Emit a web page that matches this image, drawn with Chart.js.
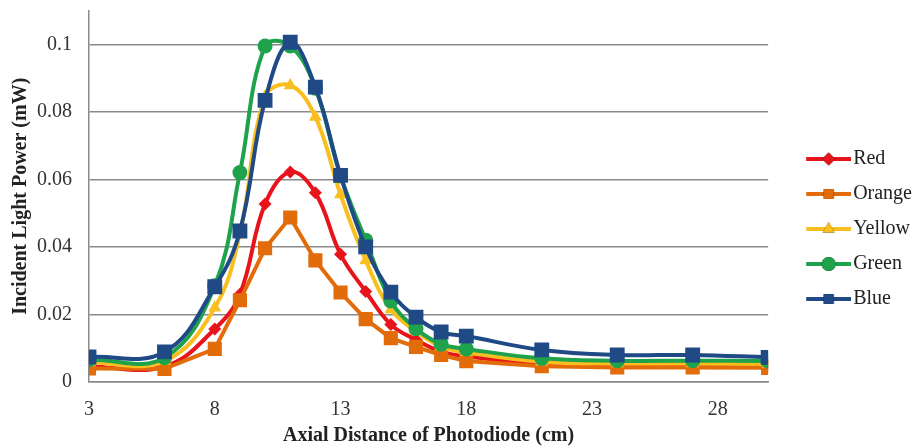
<!DOCTYPE html>
<html>
<head>
<meta charset="utf-8">
<script src="https://cdn.jsdelivr.net/npm/chart.js@4.4.1/dist/chart.umd.min.js"></script>
<style>
  html, body { margin: 0; padding: 0; background: #fff; }
</style>
</head>
<body>
<canvas id="chart" width="914" height="446"></canvas>
<script>
// axial distance (cm)
const distances = [3, 6, 8, 9, 10, 11, 12, 13, 14, 15, 16, 17, 18, 21, 24, 27, 30];

// incident light power (mW)
const red    = [0.0046, 0.0046, 0.0157, 0.0260, 0.0527, 0.0622, 0.0560, 0.0378, 0.0268, 0.0170, 0.0125, 0.0090, 0.0076, 0.0055, 0.0050, 0.0050, 0.0048];
const orange = [0.0040, 0.0039, 0.0098, 0.0242, 0.0396, 0.0487, 0.0360, 0.0265, 0.0186, 0.0130, 0.0104, 0.0080, 0.0062, 0.0047, 0.0043, 0.0043, 0.0042];
const yellow = [0.0058, 0.0062, 0.0220, 0.0440, 0.0845, 0.0878, 0.0785, 0.0555, 0.0360, 0.0215, 0.0150, 0.0105, 0.0088, 0.0060, 0.0055, 0.0055, 0.0053];
const green  = [0.0066, 0.0072, 0.0285, 0.0620, 0.0995, 0.0995, 0.0870, 0.0610, 0.0420, 0.0240, 0.0158, 0.0112, 0.0098, 0.0070, 0.0063, 0.0063, 0.0062];
const blue   = [0.0074, 0.0089, 0.0282, 0.0447, 0.0834, 0.1006, 0.0873, 0.0612, 0.0400, 0.0266, 0.0192, 0.0148, 0.0136, 0.0095, 0.0080, 0.0080, 0.0073];

const xTicks = [3, 8, 13, 18, 23, 28];
const yTicks = [0, 0.02, 0.04, 0.06, 0.08, 0.1];

const FONT = "'Liberation Serif', 'Times New Roman', serif";

function series(label, values, color, style, radius, order, tension) {
    return {
        label: label,
        data: distances.map((x, i) => ({ x: x, y: values[i] })),
        borderColor: color,
        backgroundColor: color,
        borderWidth: 4,
        pointStyle: style,
        pointRadius: radius,
        pointBorderWidth: 0,
        pointHoverRadius: 0,
        pointHoverBorderWidth: 0,
        pointBackgroundColor: color,
        tension: tension,
        order: order,
    };
}

// line + marker picture for the legend; only the right 45px is drawn so
// the icon sits next to the text while the legend box stays wide
const ICON_W = 76;
function legendIcon(ds) {
    const c = document.createElement('canvas');
    c.width = ICON_W;
    c.height = 16;
    const ctx = c.getContext('2d');
    ctx.strokeStyle = ds.borderColor;
    ctx.lineWidth = 4;
    ctx.beginPath();
    ctx.moveTo(ICON_W - 45, 8);
    ctx.lineTo(ICON_W, 8);
    ctx.stroke();
    Chart.helpers.drawPoint(ctx, {
        pointStyle: ds.pointStyle,
        radius: Math.min(ds.pointRadius, 7),
        rotation: 0,
        borderWidth: 0,
    }, ICON_W - 22.5, 8);
    ctx.fillStyle = ds.borderColor;
    ctx.fill();
    return c;
}

const datasets = [
    series('Red', red, '#e8141b', 'rectRot', 6.5, 5, 0.4),
    series('Orange', orange, '#e36c0a', 'rect', 10, 4, 0),
    series('Yellow', yellow, '#f9bf1e', 'triangle', 7.5, 3, 0.4),
    series('Green', green, '#1ea24c', 'circle', 7.5, 2, 0.4),
    series('Blue', blue, '#1f4a85', 'rect', 10.5, 1, 0.4),
];

new Chart(document.getElementById('chart'), {
    type: 'line',
    data: { datasets: datasets },
    options: {
        responsive: false,
        animation: false,
        layout: { padding: { left: 9, top: 8, right: -8, bottom: 0 } },
        plugins: {
            tooltip: { enabled: false },
            legend: {
                position: 'right',
                // tiny empty title nudges the entries down a bit
                title: { display: true, text: ' ', font: { size: 4, lineHeight: 1 }, padding: 0 },
                labels: {
                    usePointStyle: true,
                    pointStyleWidth: 60,
                    padding: 15,
                    color: '#222',
                    font: { family: FONT, size: 20 },
                    generateLabels: chart => chart.data.datasets.map((ds, i) => ({
                        text: ds.label,
                        pointStyle: legendIcon(ds),
                        fillStyle: ds.borderColor,
                        strokeStyle: ds.borderColor,
                        lineWidth: 0,
                        hidden: false,
                        datasetIndex: i,
                        fontColor: '#222',
                    })),
                },
            },
        },
        scales: {
            x: {
                type: 'linear',
                min: 3,
                max: 30,
                afterBuildTicks: axis => { axis.ticks = xTicks.map(v => ({ value: v })); },
                grid: { display: false, drawTicks: false },
                border: { color: '#8a8a8a', width: 1.5 },
                ticks: {
                    padding: 16,
                    color: '#333',
                    font: { family: FONT, size: 20 },
                    maxRotation: 0,
                },
                title: {
                    display: true,
                    text: 'Axial Distance of Photodiode (cm)',
                    color: '#222',
                    font: { family: FONT, size: 20, weight: 'bold', lineHeight: 1 },
                    padding: { top: -12, bottom: 0 },
                },
            },
            y: {
                min: 0,
                max: 0.11,
                afterBuildTicks: axis => { axis.ticks = yTicks.map(v => ({ value: v })); },
                // invisible tick marks give the gap between labels and axis
                grid: { color: '#8a8a8a', lineWidth: 1.5, drawTicks: true, tickLength: 17, tickColor: 'rgba(0,0,0,0)' },
                border: { color: '#8a8a8a', width: 1.5 },
                ticks: {
                    padding: 0,
                    color: '#333',
                    font: { family: FONT, size: 20, lineHeight: 0.1 },
                    callback: v => String(v),
                },
                title: {
                    display: true,
                    text: 'Incident Light Power (mW)',
                    color: '#222',
                    font: { family: FONT, size: 20, weight: 'bold', lineHeight: 1.2 },
                    padding: { top: 0, bottom: 4 },
                },
            },
        },
    },
});
</script>
</body>
</html>
